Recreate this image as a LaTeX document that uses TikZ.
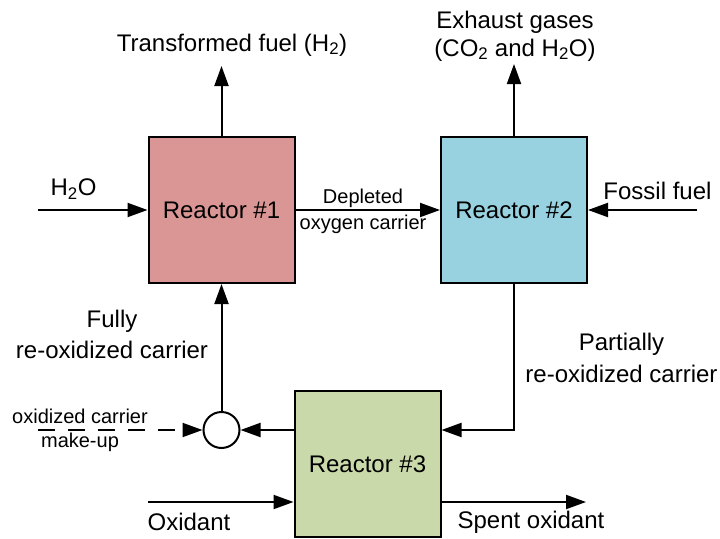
\documentclass[tikz,border=0pt]{standalone}
\usepackage{fontspec}
\setmainfont{Liberation Sans}
\usetikzlibrary{arrows.meta}
\definecolor{rone}{HTML}{DA9694}
\definecolor{rtwo}{HTML}{98D1DF}
\definecolor{rthree}{HTML}{CAD9A9}
\begin{document}
\begin{tikzpicture}[x=1pt,y=-1pt,
  reactor/.style={draw,line width=2pt,minimum width=146pt,minimum height=146pt,inner sep=0pt,font=\fontsize{24}{28}\selectfont},
  lbl/.style={inner sep=0pt,font=\fontsize{24}{28}\selectfont},
  slbl/.style={inner sep=0pt,font=\fontsize{20}{24}\selectfont},
  flow/.style={line width=2pt,-{Triangle[length=20pt,width=14pt]}},
  mixer/.style={circle,draw,line width=2pt,minimum size=36pt,inner sep=0pt,fill=white}
]
\useasboundingbox (0,0) rectangle (720,538);
\node[reactor,fill=rone] (r1) at (221.5,210) {Reactor \#1};
\node[reactor,fill=rtwo] (r2) at (514,210) {Reactor \#2};
\node[reactor,fill=rthree] (r3) at (367.5,464) {Reactor \#3};
\node[mixer] (mix) at (221.5,430) {};

% top outputs
\coordinate (fuelout) at (221.5,66);
\draw[flow] (r1.north) -- (fuelout);
\node[lbl] (tf) at (232,45) {Transformed fuel (H\textsubscript{2})};
\coordinate (exout) at (514,64);
\draw[flow] (r2.north) -- (exout);
\node[lbl] (ex1) at (515,22) {Exhaust gases};
\node[lbl] (ex2) at (515,50) {(CO\textsubscript{2} and H\textsubscript{2}O)};

% side inputs
\coordinate (h2oin) at (38,210);
\draw[flow] (h2oin) -- (r1.west);
\node[lbl] (h2o) at (73.5,189) {H\textsubscript{2}O};
\coordinate (ffin) at (697,210);
\draw[flow] (ffin) -- (r2.east);
\node[lbl] (ff) at (657.5,191) {Fossil fuel};

% reactor 1 -> reactor 2
\draw[flow] (r1.east) -- (r2.west);
\node[slbl] (dep1) at (363,198) {Depleted};
\node[slbl] (dep2) at (363,224) {oxygen carrier};

% reactor 2 -> reactor 3
\coordinate (corner) at (514,430);
\draw[flow] (r2.south) -- (corner) -- (r3.east |- corner);
\node[lbl] (part) at (621.5,344) {Partially};
\node[lbl] (reox2) at (621.5,374) {re-oxidized carrier};

% reactor 3 -> mixer -> reactor 1
\draw[flow] (r3.west |- mix) -- (mix.east);
\coordinate (mkup) at (38,430);
\draw[flow,dash pattern=on 17pt off 13pt] (mkup) -- (mix.west);
\node[slbl] (oc) at (80,416) {oxidized carrier};
\node[slbl] (mu) at (80,442) {make-up};
\draw[flow] (mix.north) -- (r1.south);
\node[lbl] (fully) at (112,321) {Fully};
\node[lbl] (reox1) at (112,350) {re-oxidized carrier};

% oxidant
\coordinate (oxin) at (148,502);
\draw[flow] (oxin) -- (r3.west |- oxin);
\node[lbl] (ox) at (189,522) {Oxidant};
\coordinate (spout) at (586,502);
\draw[flow] (r3.east |- spout) -- (spout);
\node[lbl] (sp) at (531,522) {Spent oxidant};
\end{tikzpicture}
\end{document}
